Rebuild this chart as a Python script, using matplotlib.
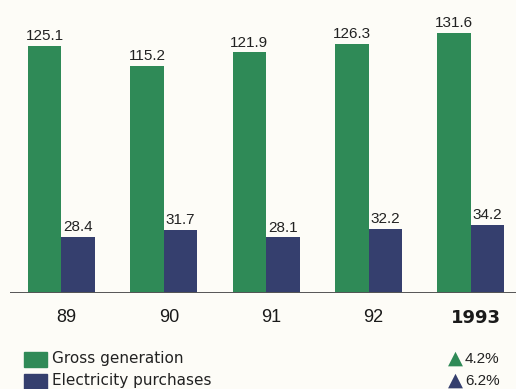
import matplotlib
matplotlib.use("Agg")
from matplotlib import pyplot as plt
from matplotlib.patches import Rectangle

plt.rcParams['font.family'] = ['Liberation Sans', 'DejaVu Sans']

# Generation vs purchases (billion kWh)
years = ['89', '90', '91', '92', '1993']
gross_generation = [125.1, 115.2, 121.9, 126.3, 131.6]
electricity_purchases = [28.4, 31.7, 28.1, 32.2, 34.2]
growth_labels = ['4.2%', '6.2%']
series_names = ['Gross generation', 'Electricity purchases']

GREEN = '#2f8a57'
NAVY = '#353f6e'
BG = '#fdfcf7'

W, H = 516, 389
fig = plt.figure(figsize=(W / 100, H / 100), dpi=100, facecolor=BG)

# axes laid out in pixel terms: baseline at y=292.7, group pitch 102.4 px
base_px = 292.7
px_per_unit = 1.972
ax = fig.add_axes([10 / W, (H - base_px) / H, 506 / W, base_px / H])
ax.set_facecolor(BG)
ax.set_xlim(-0.5, 4.44)
ax.set_ylim(0, base_px / px_per_unit)

bw = 0.327
x = list(range(len(years)))
g_bars = ax.bar([i - bw / 2 for i in x], gross_generation, width=bw, color=GREEN)
p_bars = ax.bar([i + bw / 2 for i in x], electricity_purchases, width=bw, color=NAVY)

for bars, vals in ((g_bars, gross_generation), (p_bars, electricity_purchases)):
    for b, v in zip(bars, vals):
        ax.annotate(f'{v:.1f}', (b.get_x() + b.get_width() / 2, v),
                    xytext=(0, 2), textcoords='offset points',
                    ha='center', va='bottom', fontsize=11, color='#222222')

ax.axhline(0, color='#555555', lw=1.4)

for i, yr in enumerate(years):
    last = i == len(years) - 1
    ax.text(i + 0.05, -12.7, yr, ha='center', va='center', fontsize=13,
            fontweight='bold' if last else 'normal',
            family=['DejaVu Sans'] if last else None,
            color='#1a1a1a', clip_on=False)

for s in ax.spines.values():
    s.set_visible(False)
ax.set_xticks([])
ax.set_yticks([])

# legend rows with growth arrows on the right
rows_y = [359, 381]
for (name, col, pct), yc in zip(zip(series_names, [GREEN, NAVY], growth_labels), rows_y):
    fig.add_artist(Rectangle((24 / W, (H - yc - 7.5) / H), 23 / W, 15 / H,
                             transform=fig.transFigure, color=col))
    fig.text(52 / W, (H - yc) / H, name, ha='left', va='center',
             fontsize=11, color='#222222', family=['DejaVu Sans'])
    fig.text(455 / W, (H - yc + 1) / H, '▲', ha='center', va='center',
             fontsize=14, color=col, family=['DejaVu Sans'])
    fig.text(465 / W, (H - yc) / H, pct, ha='left', va='center',
             fontsize=11, color='#222222')

fig.savefig('out.png', dpi=100, facecolor=BG)
